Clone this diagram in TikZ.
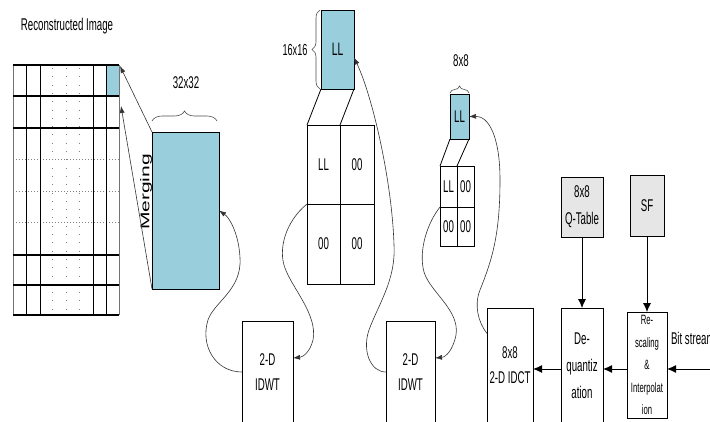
\documentclass[tikz,border=0pt]{standalone}
\usepackage{fontspec}
\setmainfont[FakeStretch=0.57]{Liberation Sans}
\newfontfamily\plainsans{Liberation Sans}
\usepackage{tikz}
\usetikzlibrary{arrows.meta,positioning,calc,decorations.pathreplacing,shadows}
\definecolor{llblue}{RGB}{153,207,221}
\definecolor{boxgray}{RGB}{230,230,230}

\begin{document}
\begin{tikzpicture}[x=1pt,y=-1pt,
  every node/.style={inner sep=0pt,outer sep=0pt,align=center,font=\fontsize{17}{25}\selectfont},
  blk/.style={draw,line width=1pt},
  cell/.style={draw,line width=0.9pt},
  band/.style={blk,fill=llblue},
  src/.style={blk,fill=boxgray,drop shadow={shadow xshift=1pt,shadow yshift=-1.3pt,fill=black!80,opacity=1}},
  flow/.style={line width=0.6pt,black!80,-{Latex[length=7pt,width=5pt]}},
  feed/.style={line width=1pt,-{Latex[length=9pt,width=8pt]}},
  brc/.style={decorate,line width=0.6pt,black!70}]
  \useasboundingbox (0,0) rectangle (710,421);
  \clip (0,0) rectangle (710,421);

  \node (ttl) at (67,26) {Reconstructed Image};
  \fill[llblue] (106,65) rectangle (119,96);
  \foreach \x in {52,66,79} \draw[gray,line width=1pt,dash pattern=on 1pt off 7.3pt] (\x,68)--(\x,315);
  \foreach \y in {159,191,222} \draw[gray,line width=1pt,dash pattern=on 1pt off 2pt] (13,\y)--(119,\y);
  \foreach \x in {26,40,93,106} \draw[line width=0.9pt] (\x,65)--(\x,315);
  \foreach \x in {13,119} \draw[line width=1pt,black!55] (\x,65)--(\x,315);
  \foreach \y in {65,96,128,255,285,315} \draw[line width=1.5pt] (13,\y)--(119,\y);
  \coordinate (cellA) at (120,66);
  \coordinate (cellB) at (121,106);

  \node[band,minimum width=67pt,minimum height=157pt] (blk32) at (185.5,210.5) {};
  \node (lab32) at (186,83) {32x32};
  \draw[brc,decoration={brace,amplitude=10pt}] (152,121)--(217,121);
  \node (merg) at (146,192) {\scalebox{0.6}[1]{\rotatebox{90}{\plainsans\fontsize{21}{21}\selectfont Merging}}};
  \draw[flow] (blk32.north west)--(cellA);
  \draw[flow] (blk32.south west)--(cellB);

  \node[band,minimum width=33pt,minimum height=79pt,font=\fontsize{18}{18}\selectfont] (ll16) at (337.5,49.5) {LL};
  \node[font=\fontsize{16}{16}\selectfont] (lab16) at (295,50) {16x16};
  \draw[brc,decoration={brace,amplitude=8pt}] (320,89)--(320,10);
  \node[cell,minimum width=33pt,minimum height=79pt] (c16a) at (323.5,164.5) {LL};
  \node[cell,minimum width=34pt,minimum height=79pt,right=0pt of c16a] (c16b) {00};
  \node[cell,minimum width=33pt,minimum height=80pt,below=0pt of c16a] (c16c) {00};
  \node[cell,minimum width=34pt,minimum height=80pt,right=0pt of c16c] (c16d) {00};
  \draw[line width=0.8pt] (ll16.south west)--(c16a.north west);
  \draw[line width=0.8pt] (ll16.south east)--(c16a.north east);

  \node[band,minimum width=19pt,minimum height=45pt] (ll8) at (459.5,116.5) {LL};
  \node (lab8) at (461,61) {8x8};
  \draw[brc,decoration={brace,amplitude=7pt}] (450,93)--(469,93);
  \node[cell,minimum width=17pt,minimum height=41pt] (c8a) at (448.5,186.5) {LL};
  \node[cell,minimum width=17pt,minimum height=41pt,right=0pt of c8a] (c8b) {00};
  \node[cell,minimum width=17pt,minimum height=39pt,below=0pt of c8a] (c8c) {00};
  \node[cell,minimum width=17pt,minimum height=39pt,right=0pt of c8c] (c8d) {00};
  \draw[line width=0.8pt] (ll8.south west)--(c8a.north west);
  \draw[line width=0.8pt] (ll8.south east)--(c8a.north east);

  \node[blk,minimum width=51pt,minimum height=102pt] (idwtA) at (267.5,372) {2-D\\IDWT};
  \node[blk,minimum width=49pt,minimum height=102pt] (idwtB) at (410.5,372) {2-D\\IDWT};
  \node[blk,minimum width=46pt,minimum height=115pt] (idct) at (510,365.5) {8x8\\2-D IDCT};
  \node[blk,minimum width=42pt,minimum height=115pt,font=\fontsize{17}{27}\selectfont] (dequ) at (582,365.5) {De-\\quantiz\\ation};
  \node[blk,minimum width=40pt,minimum height=106pt,font=\fontsize{13.5}{22.5}\selectfont] (resc) at (647,365) {Re-\\scaling\\\&\\Interpolat\\ion};
  \node[src,minimum width=42pt,minimum height=60pt,font=\fontsize{17}{27}\selectfont] (qtab) at (582,207) {8x8\\Q-Table};
  \node[src,minimum width=34pt,minimum height=61pt] (sf) at (647,205.5) {SF};
  \node[anchor=west] (bits) at (671,338) {Bit stream};
  \coordinate (bitin) at (712,369);

  \draw[flow] (idwtA.west) .. controls (215,372) and (200,345) .. (208,320) .. controls (214,302) and (242,290) .. (240,258) .. controls (239,235) and (230,218) .. (blk32.east);
  \draw[flow] (c16c.north west) .. controls (285,222) and (278,250) .. (285,268) .. controls (292,288) and (318,315) .. (313,340) .. controls (310,352) and (303,357) .. ($(idwtA.east)+(0,-14)$);
  \draw[flow] (idwtB.west) .. controls (370,372) and (362,350) .. (369,330) .. controls (378,305) and (396,280) .. (394,245) .. controls (392,180) and (372,95) .. ($(ll16.east)+(0,8)$);
  \draw[flow] (c8c.north west) .. controls (428,222) and (418,250) .. (424,272) .. controls (430,292) and (460,310) .. (456,335) .. controls (453,350) and (446,357) .. ($(idwtB.east)+(0,-14)$);
  \draw[flow] ($(idct.west)+(0,-32)$) .. controls (478,322) and (474,305) .. (480,290) .. controls (492,260) and (500,235) .. (500,180) .. controls (500,135) and (488,116) .. (ll8.east);

  \draw[feed] (bitin)--(bitin -| resc.east);
  \draw[feed] (bitin -| resc.west)--(bitin -| dequ.east);
  \draw[feed] (bitin -| dequ.west)--(bitin -| idct.east);
  \draw[feed,line width=0.8pt] (qtab.south)--(dequ.north);
  \draw[feed,line width=0.8pt] (sf.south)--(resc.north);
\end{tikzpicture}
\end{document}
